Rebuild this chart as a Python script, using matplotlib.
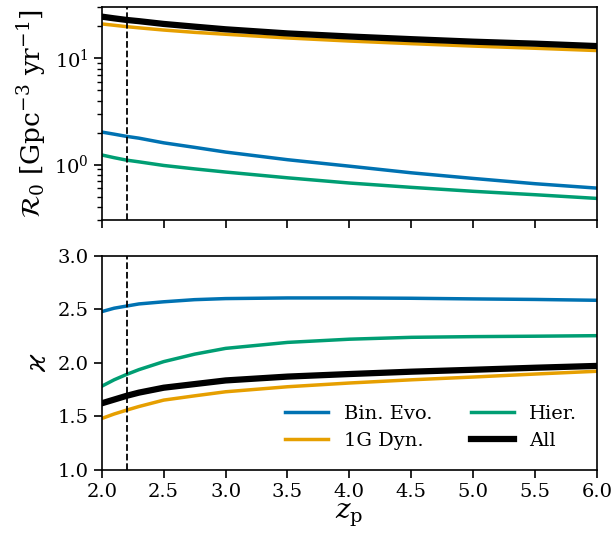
import matplotlib

matplotlib.use("Agg")

import matplotlib.pyplot as plt

# redshift of peak star formation
z_peak = [2.0, 2.1, 2.2, 2.3, 2.5, 2.75, 3.0, 3.5, 4.0, 4.5, 5.0, 5.5, 6.0]
z_cut = 2.2

# local merger rate R_0 [Gpc^-3 yr^-1]
rate_bin_evo = [2.02, 1.93, 1.84, 1.77, 1.60, 1.45, 1.31, 1.11, 0.965, 0.836, 0.74, 0.66, 0.60]
rate_1g_dyn = [21.0, 20.4, 19.8, 19.3, 18.4, 17.5, 16.8, 15.5, 14.5, 13.7, 13.0, 12.4, 11.8]
rate_hier = [1.23, 1.16, 1.10, 1.06, 0.98, 0.91, 0.85, 0.75, 0.67, 0.61, 0.56, 0.52, 0.48]
rate_all = [24.6, 23.7, 22.9, 22.3, 21.0, 19.8, 18.7, 17.1, 16.0, 15.1, 14.3, 13.7, 13.0]

# low-redshift slope kappa
kappa_bin_evo = [2.478, 2.51, 2.53, 2.55, 2.57, 2.59, 2.60, 2.606, 2.606, 2.603, 2.597, 2.592, 2.584]
kappa_1g_dyn = [1.478, 1.52, 1.556, 1.59, 1.65, 1.69, 1.728, 1.775, 1.81, 1.84, 1.866, 1.894, 1.92]
kappa_hier = [1.78, 1.84, 1.89, 1.935, 2.01, 2.08, 2.134, 2.19, 2.22, 2.2375, 2.244, 2.248, 2.253]
kappa_all = [1.62, 1.655, 1.69, 1.72, 1.766, 1.80, 1.834, 1.87, 1.894, 1.916, 1.934, 1.953, 1.97]

c_bin, c_1g, c_hier = "#0072B2", "#E69F00", "#009E73"

plt.rcParams["font.family"] = "DejaVu Serif"
plt.rcParams["mathtext.fontset"] = "dejavuserif"

fig = plt.figure(figsize=(6.13, 5.33), dpi=100)
ax_top = fig.add_axes([0.166, 0.587, 0.808, 0.399])
ax_bot = fig.add_axes([0.166, 0.119, 0.808, 0.401])

ax_top.plot(z_peak, rate_bin_evo, color=c_bin, lw=2.5)
ax_top.plot(z_peak, rate_1g_dyn, color=c_1g, lw=2.5)
ax_top.plot(z_peak, rate_hier, color=c_hier, lw=2.5)
ax_top.plot(z_peak, rate_all, color="black", lw=4.5)
ax_top.axvline(z_cut, color="black", ls="--", lw=1.3)
ax_top.set_yscale("log")
ax_top.set_xlim(2, 6)
ax_top.set_ylim(0.3, 30)
ax_top.set_xticklabels([])
ax_top.set_ylabel(r"$\mathcal{R}_0\ [\mathrm{Gpc}^{-3}\ \mathrm{yr}^{-1}]$", fontsize=19)

ax_bot.plot(z_peak, kappa_bin_evo, color=c_bin, lw=2.5, label="Bin. Evo.")
ax_bot.plot(z_peak, kappa_1g_dyn, color=c_1g, lw=2.5, label="1G Dyn.")
ax_bot.plot(z_peak, kappa_hier, color=c_hier, lw=2.5, label="Hier.")
ax_bot.plot(z_peak, kappa_all, color="black", lw=4.5, label="All")
ax_bot.axvline(z_cut, color="black", ls="--", lw=1.3)
ax_bot.set_xlim(2, 6)
ax_bot.set_ylim(1.0, 3.0)
ax_bot.set_yticks([1.0, 1.5, 2.0, 2.5, 3.0])
ax_bot.set_xlabel(r"$z_\mathrm{p}$", fontsize=20, labelpad=1)
ax_bot.set_ylabel(r"$\varkappa$", fontsize=20)
ax_bot.legend(loc="lower right", ncol=2, frameon=False, fontsize=14,
              bbox_to_anchor=(0.976, 0.054), borderaxespad=0,
              handlelength=2.2, columnspacing=2.0)

for ax in (ax_top, ax_bot):
    ax.tick_params(labelsize=14, width=1.2, length=6)
    ax.tick_params(which="minor", width=1.0, length=3.5)
    for spine in ax.spines.values():
        spine.set_linewidth(1.2)

fig.savefig("out.png", dpi=100)
plt.close(fig)
